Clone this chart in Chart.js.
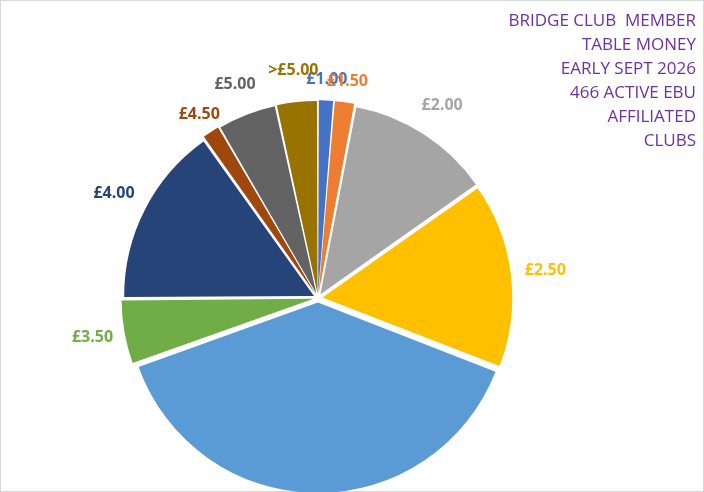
<!DOCTYPE html>
<html lang="en">
<head>
<meta charset="UTF-8">
<title>Bridge Club Table Money</title>
<script src="https://cdn.jsdelivr.net/npm/chart.js"></script>
<style>
  html, body { margin: 0; padding: 0; overflow: hidden; background: #fff; }
  .frame { position: absolute; left: 0; top: 0; width: 702px; height: 490px; border: 1px solid #d9d9d9; }
  .wrap { position: absolute; left: 0; top: 0; width: 704px; height: 520px; }
  .title { position: absolute; right: 8px; top: 8px; text-align: right; color: #7030A0;
           font-family: "Open Sans", sans-serif; font-size: 17px; line-height: 24px; }
</style>
</head>
<body>
<div class="frame"></div>
<div class="wrap"><canvas id="pie"></canvas></div>
<div class="title">BRIDGE CLUB&nbsp; MEMBER<br>TABLE MONEY<br>EARLY SEPT 2026<br>466 ACTIVE EBU<br>AFFILIATED<br>CLUBS</div>
<script>
const labels = ['£1.00', '£1.50', '£2.00', '£2.50', '£3.00', '£3.50', '£4.00', '£4.50', '£5.00', '>£5.00'];
const clubs = [6, 8, 57, 73, 180, 25, 71, 7, 23, 16];
const colors = ['#4472C4', '#ED7D31', '#A5A5A5', '#FFC000', '#5B9BD5', '#70AD47', '#264478', '#9E480E', '#636363', '#997300'];

// labels outside each slice, in the slice colour
const outerLabels = {
    id: 'outerLabels',
    afterDatasetsDraw(chart) {
        const ctx = chart.ctx;
        const meta = chart.getDatasetMeta(0);
        ctx.save();
        ctx.font = 'bold 16px "Open Sans", sans-serif';
        ctx.textAlign = 'center';
        ctx.textBaseline = 'middle';
        meta.data.forEach((arc, i) => {
            const p = arc.getProps(['x', 'y', 'startAngle', 'endAngle', 'outerRadius']);
            const mid = (p.startAngle + p.endAngle) / 2;
            const r = p.outerRadius + (clubs[i] < 10 ? 30 : 40);
            ctx.fillStyle = colors[i];
            ctx.fillText(labels[i], p.x + Math.cos(mid) * r, p.y + Math.sin(mid) * r);
        });
        ctx.restore();
    }
};

new Chart(document.getElementById('pie'), {
    type: 'pie',
    data: {
        labels: labels,
        datasets: [{
            data: clubs,
            backgroundColor: colors,
            borderWidth: 0,
            offset: 18
        }]
    },
    options: {
        responsive: true,
        maintainAspectRatio: false,
        animation: false,
        layout: { padding: { top: 100, bottom: 24, left: 0, right: 68 } },
        plugins: { legend: { display: false }, tooltip: { enabled: false } }
    },
    plugins: [outerLabels]
});
</script>
</body>
</html>
